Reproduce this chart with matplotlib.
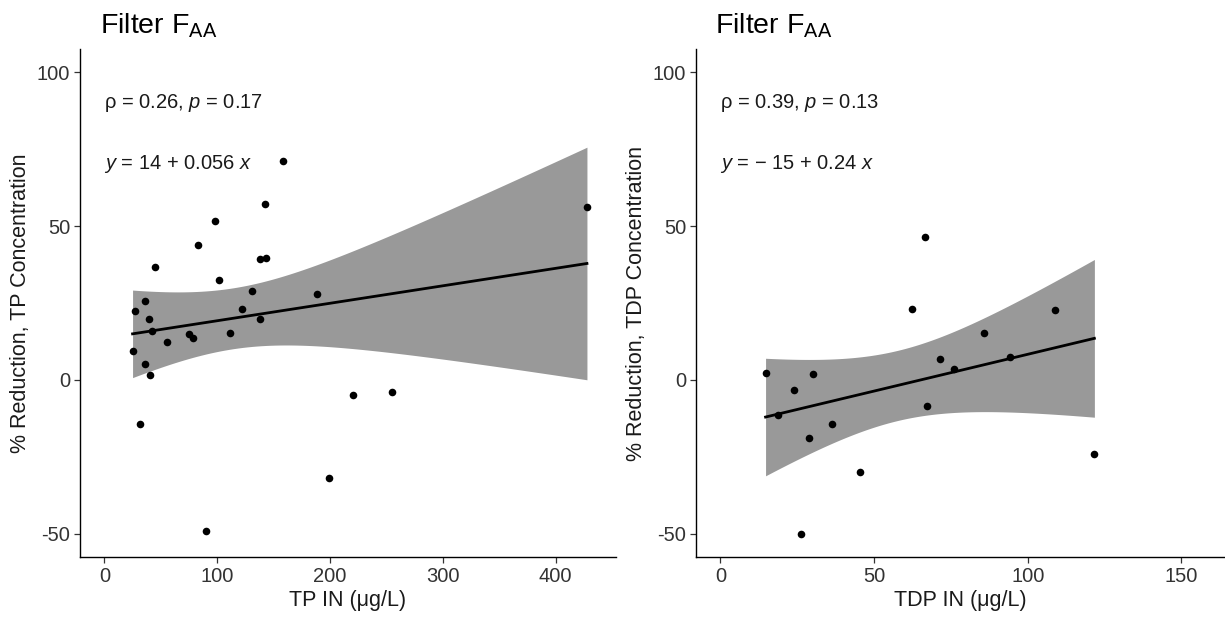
import matplotlib
matplotlib.use("Agg")
import matplotlib.pyplot as plt
import numpy as np

plt.rcParams["font.family"] = ["Liberation Sans", "DejaVu Sans"]
plt.rcParams["mathtext.fontset"] = "custom"
plt.rcParams["mathtext.rm"] = "Liberation Sans"
plt.rcParams["mathtext.it"] = "Liberation Sans:italic"
plt.rcParams["axes.unicode_minus"] = False

# Filter F_AA, total phosphorus
tp_in = [158.3, 142.5, 98.3, 82.8, 137.8, 143.1, 44.8, 101.9, 131.3, 188.8,
         35.6, 26.8, 122.2, 39.8, 138.4, 42.4, 75.4, 78.3, 111.6, 55.9,
         25.0, 36.0, 40.6, 31.8, 90.4, 198.8, 427.8, 220.6, 255.3]
tp_red = [71.1, 57.0, 51.5, 43.9, 39.2, 39.6, 36.8, 32.6, 28.8, 28.0,
          25.5, 22.3, 23.1, 19.7, 19.7, 16.0, 14.8, 13.6, 15.4, 12.2,
          9.4, 5.3, 1.6, -14.4, -48.9, -31.7, 56.2, -4.8, -3.9]

# Filter F_AA, total dissolved phosphorus
tdp_in = [66.5, 62.5, 108.8, 85.9, 71.6, 94.1, 76.0, 14.7, 30.1, 24.0,
          67.1, 18.8, 36.2, 28.7, 121.7, 45.3, 26.2]
tdp_red = [46.4, 23.1, 22.8, 15.2, 6.9, 7.5, 3.6, 2.4, 2.1, -3.2,
           -8.5, -11.5, -14.4, -19.0, -24.1, -30.0, -50.0]

panels = [
    {"x": tp_in, "y": tp_red, "xlabel": "TP IN (\u03bcg/L)",
     "ylabel": "% Reduction, TP Concentration",
     "stat": r"$\mathregular{\rho}$ = 0.26, $\it{p}$ = 0.17",
     "eq": r"$\it{y}$ = 14 + 0.056 $\it{x}$",
     "xticks": [0, 100, 200, 300, 400], "xlim": (-21.6, 453.6)},
    {"x": tdp_in, "y": tdp_red, "xlabel": "TDP IN (\u03bcg/L)",
     "ylabel": "% Reduction, TDP Concentration",
     "stat": r"$\mathregular{\rho}$ = 0.39, $\it{p}$ = 0.13",
     "eq": "$\\it{y}$ = \u2212 15 + 0.24 $\\it{x}$",
     "xticks": [0, 50, 100, 150], "xlim": (-8, 164.2)},
]

# 95% t quantiles by residual degrees of freedom
T95 = {27: 2.052, 15: 2.131}


def lm_band(x, y):
    x = np.asarray(x)
    y = np.asarray(y)
    n = len(x)
    slope, intercept = np.polyfit(x, y, 1)
    xs = np.linspace(x.min(), x.max(), 100)
    fit = intercept + slope * xs
    resid = y - (intercept + slope * x)
    s = np.sqrt(np.sum(resid ** 2) / (n - 2))
    sxx = np.sum((x - x.mean()) ** 2)
    se = s * np.sqrt(1.0 / n + (xs - x.mean()) ** 2 / sxx)
    t = T95[n - 2]
    return xs, fit, fit - t * se, fit + t * se


fig = plt.figure(figsize=(12.25, 6.18), dpi=100)
boxes = [[0.0653, 0.0987, 0.4376, 0.822], [0.568, 0.0987, 0.432, 0.822]]
text_col = "#333333"

for box, p in zip(boxes, panels):
    ax = fig.add_axes(box)
    xs, fit, lo, hi = lm_band(p["x"], p["y"])
    ax.fill_between(xs, lo, hi, color="#999999", linewidth=0, zorder=1)
    ax.plot(xs, fit, color="black", linewidth=2.0, zorder=2)
    ax.scatter(p["x"], p["y"], s=30, color="black", linewidth=0, zorder=3)

    ax.set_xlim(*p["xlim"])
    ax.set_ylim(-57.5, 107.5)
    ax.set_xticks(p["xticks"])
    ax.set_yticks([-50, 0, 50, 100])
    for side in ("top", "right"):
        ax.spines[side].set_visible(False)
    for side in ("left", "bottom"):
        ax.spines[side].set_linewidth(1.0)
        ax.spines[side].set_color("black")
    ax.tick_params(length=4, width=0.9, color=text_col, labelsize=14.5,
                   labelcolor=text_col, pad=3)
    ax.set_xlabel(p["xlabel"], fontsize=15.5, color="#1a1a1a", labelpad=3)
    ax.set_ylabel(p["ylabel"], fontsize=15.5, color="#1a1a1a", labelpad=4)

    ax.text(0, 90, p["stat"], fontsize=14.5, color="#1a1a1a",
            ha="left", va="center")
    ax.text(0, 70, p["eq"], fontsize=14.5, color="#1a1a1a",
            ha="left", va="center")

    fig.text(box[0] + 0.016, 0.958, r"Filter F$_{\mathregular{AA}}$",
             fontsize=20.5, color="black", ha="left", va="center")

fig.savefig("out.png", dpi=100)
